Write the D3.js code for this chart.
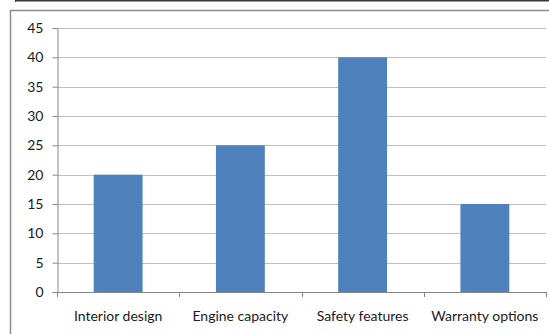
<!DOCTYPE html>
<html>
<head>
<meta charset="utf-8">
<script src="https://cdn.jsdelivr.net/npm/d3@7"></script>
<style>
  html, body { margin: 0; padding: 0; background: #fff; }
  svg { display: block; }
  text { font-family: Lato, "Open Sans", sans-serif; font-size: 14px; fill: #1a1a1a; }
</style>
</head>
<body>
<div id="chart"></div>
<script>
// ── Data ─────────────────────────────────────────────────────────────────────
const categories = ['Interior design', 'Engine capacity', 'Safety features', 'Warranty options'];
const values     = [20, 25, 40, 15];
const yTicks     = [0, 5, 10, 15, 20, 25, 30, 35, 40, 45];

// ── Layout ───────────────────────────────────────────────────────────────────
const W = 549, H = 334;
const plot = { left: 57, right: 546, top: 28, bottom: 292 };

const svg = d3.select('#chart').append('svg')
  .attr('width', W)
  .attr('height', H);

// frame bits around the chart
svg.append('line')
  .attr('x1', 15).attr('x2', W).attr('y1', 0.5).attr('y2', 0.5)
  .attr('stroke', '#3a3a3a').attr('stroke-width', 2);
svg.append('line')
  .attr('x1', 15.5).attr('x2', 15.5).attr('y1', 0).attr('y2', 2)
  .attr('stroke', '#3a3a3a');
svg.append('rect')
  .attr('x', 10.5).attr('y', 10.5)
  .attr('width', W + 10).attr('height', H + 10)
  .attr('fill', 'none')
  .attr('stroke', '#8c8c8c').attr('stroke-width', 1.5);

const x = d3.scaleBand()
  .domain(categories)
  .range([plot.left, plot.right])
  .paddingInner(0.6)
  .paddingOuter(0.3);

const y = d3.scaleLinear()
  .domain([0, 45])
  .range([plot.bottom, plot.top]);

// gridlines
svg.append('g')
  .selectAll('line')
  .data(yTicks.filter(d => d > 0))
  .enter().append('line')
  .attr('x1', plot.left).attr('x2', plot.right)
  .attr('y1', d => Math.round(y(d)) + 0.5)
  .attr('y2', d => Math.round(y(d)) + 0.5)
  .attr('stroke', '#c0c0c0').attr('stroke-width', 1);

// bars
svg.append('g')
  .selectAll('rect')
  .data(values)
  .enter().append('rect')
  .attr('x', (d, i) => x(categories[i]))
  .attr('y', d => y(d))
  .attr('width', x.bandwidth())
  .attr('height', d => y(0) - y(d))
  .attr('fill', '#4f81bd');

// y axis
const yAxis = svg.append('g')
  .attr('transform', `translate(${plot.left + 0.5},0)`)
  .call(d3.axisLeft(y).tickValues(yTicks).tickSize(5).tickPadding(9));
yAxis.select('.domain').attr('stroke', '#868686');
yAxis.selectAll('.tick line').attr('stroke', '#868686');
yAxis.selectAll('text').style('font-size', '14px').attr('fill', '#1a1a1a');

// x axis
const step = x.step();
const xEdges = d3.range(categories.length + 1).map(i => plot.left + i * step);
const xa = svg.append('g');
xa.append('line')
  .attr('x1', plot.left).attr('x2', plot.right)
  .attr('y1', plot.bottom + 0.5).attr('y2', plot.bottom + 0.5)
  .attr('stroke', '#868686');
xa.selectAll('.tk')
  .data(xEdges)
  .enter().append('line')
  .attr('x1', d => Math.round(d) + 0.5).attr('x2', d => Math.round(d) + 0.5)
  .attr('y1', plot.bottom).attr('y2', plot.bottom + 5)
  .attr('stroke', '#868686');
xa.selectAll('text')
  .data(categories)
  .enter().append('text')
  .attr('x', d => x(d) + x.bandwidth() / 2)
  .attr('y', 321)
  .attr('text-anchor', 'middle')
  .text(d => d);
</script>
</body>
</html>
